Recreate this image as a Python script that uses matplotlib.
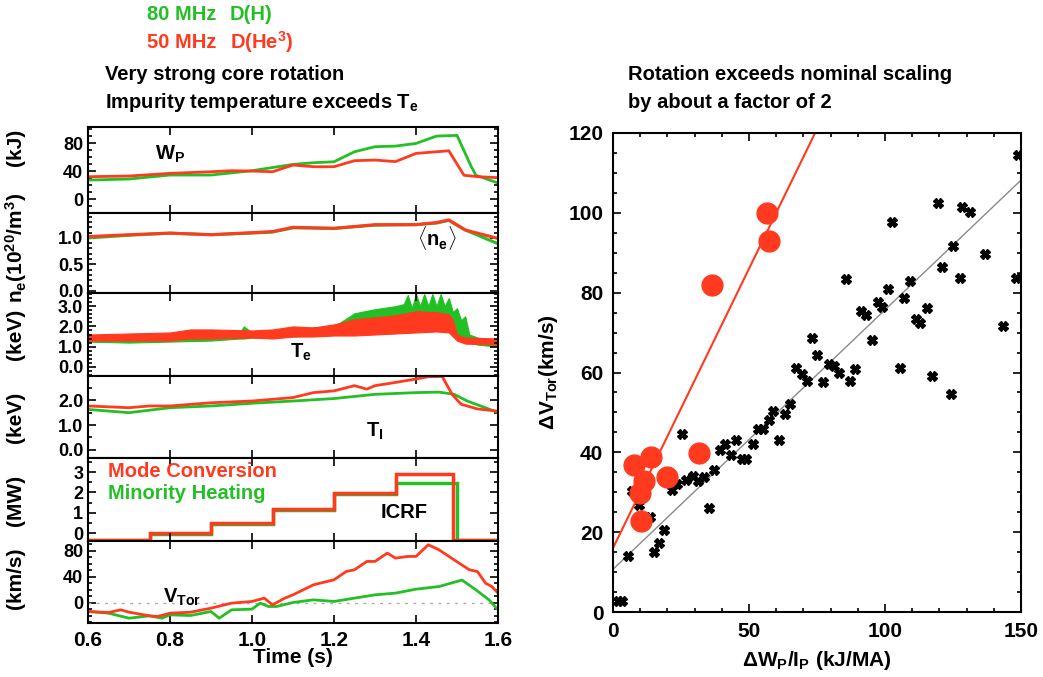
import matplotlib
matplotlib.use('Agg')
import matplotlib.pyplot as plt
from matplotlib import font_manager
from matplotlib.ticker import MultipleLocator

# colours
RED = '#ff3a1f'
GREEN = '#22c024'

# --- left column: time traces ---
wp_t_red = [0.6, 0.7, 0.8, 0.9, 0.95, 1.0, 1.05, 1.1, 1.15, 1.2, 1.25, 1.3, 1.35, 1.4, 1.45, 1.48, 1.517, 1.55, 1.6]
wp_red = [31.9, 32.9, 36.7, 39.0, 40.5, 40.0, 39.0, 48.6, 46.2, 46.2, 54.8, 55.7, 53.5, 65.2, 67.6, 69.0, 34.0, 32.0, 30.5]
wp_t_green = [0.6, 0.7, 0.8, 0.9, 1.0, 1.1, 1.15, 1.2, 1.25, 1.3, 1.35, 1.4, 1.45, 1.50, 1.533, 1.546, 1.6]
wp_green = [27.1, 28.6, 34.3, 34.3, 40.5, 49.5, 51.9, 53.3, 67.6, 74.8, 75.7, 79.5, 90.0, 91.0, 48.6, 34.0, 22.9]

ne_t = [0.6, 0.7, 0.8, 0.9, 1.0, 1.05, 1.1, 1.2, 1.3, 1.4, 1.45, 1.48, 1.52, 1.6]
ne_red = [1.025, 1.06, 1.09, 1.06, 1.10, 1.12, 1.20, 1.18, 1.25, 1.25, 1.29, 1.34, 1.15, 0.99]
ne_green = [1.0, 1.05, 1.09, 1.06, 1.09, 1.11, 1.19, 1.18, 1.24, 1.25, 1.28, 1.33, 1.15, 0.89]

# Te is a noisy band: lower / upper envelopes (sawtooth teeth read on the green top)
te_t_green = [0.6, 0.7, 0.8, 0.9, 0.97, 0.98, 1.0, 1.1, 1.15, 1.2, 1.25, 1.3, 1.35, 1.37, 1.38, 1.39, 1.40,
              1.41, 1.42, 1.43, 1.44, 1.45, 1.46, 1.47, 1.48, 1.49, 1.5, 1.51, 1.52, 1.53, 1.55, 1.6]
te_lo_green = [1.25, 1.2, 1.25, 1.3, 1.4, 1.4, 1.45, 1.5, 1.55, 1.6, 1.7, 1.75, 1.8, 1.85, 1.85, 1.85, 1.9,
               1.9, 1.9, 1.9, 1.9, 1.9, 1.9, 1.9, 1.9, 1.8, 1.6, 1.5, 1.4, 1.2, 1.1, 1.0]
te_hi_green = [1.55, 1.5, 1.55, 1.6, 1.7, 2.0, 1.7, 1.75, 1.95, 2.0, 2.65, 2.85, 3.0, 3.1, 3.55, 2.9, 3.6,
               3.0, 3.6, 3.0, 3.6, 3.0, 3.6, 3.0, 3.4, 2.7, 2.9, 2.3, 2.5, 1.6, 1.45, 1.3]
te_t_red = [0.6, 0.7, 0.8, 0.85, 0.9, 1.0, 1.05, 1.1, 1.15, 1.2, 1.25, 1.3, 1.35, 1.4, 1.45, 1.48, 1.49, 1.5, 1.52, 1.6]
te_lo_red = [1.3, 1.3, 1.3, 1.4, 1.4, 1.45, 1.4, 1.5, 1.5, 1.55, 1.55, 1.6, 1.65, 1.7, 1.75, 1.7, 1.5, 1.3, 1.15, 1.1]
te_hi_red = [1.6, 1.65, 1.7, 1.85, 1.85, 1.8, 1.85, 2.0, 1.95, 2.1, 2.35, 2.45, 2.55, 2.75, 2.7, 2.6, 2.3, 1.6, 1.45, 1.4]

ti_t_red = [0.6, 0.7, 0.75, 0.8, 0.9, 1.0, 1.1, 1.15, 1.2, 1.25, 1.28, 1.3, 1.35, 1.4, 1.43, 1.464, 1.488, 1.51, 1.55, 1.6]
ti_red = [1.77, 1.70, 1.77, 1.77, 1.90, 1.97, 2.11, 2.31, 2.38, 2.59, 2.45, 2.59, 2.72, 2.86, 2.95, 2.96, 2.24, 1.84, 1.65, 1.56]
ti_t_green = [0.6, 0.7, 0.8, 0.9, 1.0, 1.1, 1.2, 1.3, 1.4, 1.456, 1.493, 1.525, 1.6]
ti_green = [1.63, 1.50, 1.70, 1.77, 1.88, 1.97, 2.07, 2.24, 2.31, 2.33, 2.24, 1.97, 1.51]

icrf_edges_red = [0.6, 0.75, 0.9, 1.05, 1.2, 1.35, 1.49, 1.6]
icrf_red = [-0.35, 0.0, 0.49, 1.18, 1.97, 2.9, -0.35]
icrf_edges_green = [0.6, 0.75, 0.9, 1.05, 1.2, 1.35, 1.5, 1.6]
icrf_green = [-0.35, -0.03, 0.45, 1.13, 1.9, 2.45, -0.35]

vt_t_red = [0.6, 0.65, 0.68, 0.7, 0.75, 0.77, 0.8, 0.85, 0.9, 0.95, 1.0, 1.03, 1.05, 1.08, 1.1, 1.15, 1.2, 1.23,
            1.25, 1.28, 1.3, 1.33, 1.35, 1.38, 1.4, 1.43, 1.456, 1.493, 1.53, 1.55, 1.57, 1.585, 1.6]
vt_red = [-13.3, -14.9, -10.8, -14.4, -20.0, -21.0, -15.9, -14.4, -8.2, -0.5, 2.1, 7.2, -3.1, 7.2, 12.3, 27.7, 35.4, 48.2,
          50.8, 63.6, 63.6, 76.4, 68.7, 71.3, 71.3, 89.2, 81.5, 66.0, 50.8, 48.0, 30.0, 25.0, 15.0]
vt_t_green = [0.6, 0.65, 0.7, 0.75, 0.78, 0.8, 0.85, 0.9, 0.92, 0.95, 1.0, 1.02, 1.04, 1.06, 1.1, 1.15, 1.2, 1.25,
              1.3, 1.35, 1.4, 1.456, 1.512, 1.546, 1.578, 1.6]
vt_green = [-13.3, -15.9, -23.6, -20.0, -23.6, -18.5, -19.5, -13.3, -23.6, -10.8, -9.7, -0.5, -5.6, -5.6, 0.5, 4.6, 2.1, 7.2,
            12.3, 14.9, 21.0, 25.0, 35.0, 20.0, 4.6, -10.8]

# --- right panel: scatter ---
circ_x = [56.6, 57.4, 36.4, 7.7, 14.0, 11.4, 9.9, 10.2, 19.9, 31.6]
circ_y = [100.0, 92.9, 82.0, 36.8, 38.9, 32.8, 29.7, 22.7, 33.8, 39.8]

sq_x = [149.0, 119.4, 128.2, 131.2, 102.7, 124.9, 136.8, 121.1, 148.0, 127.6, 85.5, 109.2, 101.2, 106.9, 97.3, 98.9,
        115.3, 91.1, 93.0, 111.4, 113.0, 143.5, 95.3, 73.3, 74.9, 67.2, 105.6, 69.4, 71.3, 77.3, 79.4, 81.4, 83.0,
        87.1, 89.0, 117.4, 124.1, 65.1, 63.2, 58.9, 57.5, 55.3, 53.4, 61.0, 51.3, 45.2, 41.3, 39.3, 43.3, 47.3,
        48.9, 37.2, 33.5, 31.4, 29.3, 26.8, 23.4, 21.6, 25.4, 35.2, 18.9, 17.0, 15.2, 5.6, 6.9, 9.6, 13.6, 2.0, 3.2]
sq_y = [114.5, 102.4, 101.5, 100.2, 97.8, 91.7, 89.8, 86.5, 83.7, 83.7, 83.4, 82.9, 80.9, 78.6, 77.6, 76.5,
        76.2, 75.5, 74.4, 73.3, 72.4, 71.7, 68.2, 68.7, 64.5, 61.1, 61.1, 59.5, 57.8, 57.6, 62.2, 61.6, 59.9,
        57.8, 60.8, 59.0, 54.5, 52.0, 49.7, 50.3, 48.2, 45.9, 45.9, 43.2, 42.2, 43.2, 42.0, 40.5, 39.3, 38.4,
        38.4, 35.5, 33.7, 32.7, 34.0, 33.0, 32.0, 30.5, 44.5, 26.1, 20.5, 17.4, 15.1, 14.0, 30.2, 26.9, 23.8, 2.8, 2.8]

red_fit = (16.0, 1.40)    # intercept, slope
grey_fit = (10.7, 0.65)

names = {f.name for f in font_manager.fontManager.ttflist}
FAMILY = 'Liberation Sans Narrow' if 'Liberation Sans Narrow' in names else 'Liberation Sans'
plt.rcParams['font.family'] = [FAMILY, 'DejaVu Sans']
plt.rcParams['font.weight'] = 'bold'
plt.rcParams['axes.labelweight'] = 'bold'
plt.rcParams['mathtext.fontset'] = 'custom'
plt.rcParams['mathtext.rm'] = FAMILY + ':bold'
plt.rcParams['mathtext.it'] = FAMILY + ':bold'
plt.rcParams['mathtext.bf'] = FAMILY + ':bold'
plt.rcParams['mathtext.default'] = 'rm'

TXT = 14.5

W, H = 1043, 677
fig = plt.figure(figsize=(W / 100, H / 100), dpi=100)


def px_axes(left, top, right, bottom):
    return fig.add_axes([left / W, 1 - bottom / H, (right - left) / W, (bottom - top) / H])


def style(ax, size):
    for s in ax.spines.values():
        s.set_linewidth(1.5)
    ax.tick_params(which='both', direction='in', top=True, right=True, width=1.2, labelsize=size)
    ax.tick_params(which='major', length=6)
    ax.tick_params(which='minor', length=3)


edges = [127, 213, 293, 376, 458, 541, 623]
axs = [px_axes(88, edges[i], 498, edges[i + 1]) for i in range(6)]
ylims = [(-20, 103), (-0.04, 1.47), (-0.45, 3.65), (-0.33, 2.98), (-0.39, 3.69), (-31, 95)]
majors = [40, 0.5, 1.0, 1.0, 1, 40]
minors = [10, 0.1, 0.2, 0.5, 0.5, 10]
fmts = ['%d', '%.1f', '%.1f', '%.1f', '%d', '%d']
for ax, yl, mj, mn, fm in zip(axs, ylims, majors, minors, fmts):
    ax.set_xlim(0.6, 1.6)
    ax.set_ylim(*yl)
    ax.xaxis.set_major_locator(MultipleLocator(0.2))
    ax.yaxis.set_major_locator(MultipleLocator(mj))
    ax.yaxis.set_minor_locator(MultipleLocator(mn))
    ax.yaxis.set_major_formatter(plt.FormatStrFormatter(fm))
    style(ax, 13)
    if ax is not axs[-1]:
        ax.tick_params(labelbottom=False)

a = axs[0]
a.plot(wp_t_green, wp_green, color=GREEN, lw=2)
a.plot(wp_t_red, wp_red, color=RED, lw=2)
a.text(0.8, 64, r'$W_P$', fontsize=TXT, ha='center', va='center')

a = axs[1]
a.plot(ne_t, ne_green, color=GREEN, lw=2.2)
a.plot(ne_t, ne_red, color=RED, lw=2.2)
a.text(1.45, 1.0, r'$\langle n_e \rangle$', fontsize=TXT, ha='center', va='center')

a = axs[2]
a.fill_between(te_t_green, te_lo_green, te_hi_green, color=GREEN, lw=0.8, edgecolor=GREEN)
a.fill_between(te_t_red, te_lo_red, te_hi_red, color=RED, lw=0.8, edgecolor=RED)
a.text(1.12, 0.7, r'$T_e$', fontsize=TXT, ha='center', va='center')

a = axs[3]
a.plot(ti_t_green, ti_green, color=GREEN, lw=2)
a.plot(ti_t_red, ti_red, color=RED, lw=2)
a.text(1.3, 0.75, r'$T_I$', fontsize=TXT, ha='center', va='center')

a = axs[4]
a.stairs(icrf_green, icrf_edges_green, color=GREEN, lw=2.5, baseline=None)
a.stairs(icrf_red, icrf_edges_red, color=RED, lw=2.5, baseline=None)
a.text(0.65, 3.05, 'Mode Conversion', color=RED, fontsize=TXT, va='center')
a.text(0.65, 1.95, 'Minority Heating', color=GREEN, fontsize=TXT, va='center')
a.text(1.37, 1.0, 'ICRF', fontsize=TXT, ha='center', va='center')

a = axs[5]
a.axhline(0, color='#aaaaaa', lw=1, ls=(0, (2, 4)))
a.plot(vt_t_green, vt_green, color=GREEN, lw=2)
a.plot(vt_t_red, vt_red, color=RED, lw=2)
a.text(0.83, 8, r'$V_{Tor}$', fontsize=TXT, ha='center', va='center')
a.set_xticks([0.6, 0.8, 1.0, 1.2, 1.4, 1.6])
a.set_xticklabels(['0.6', '0.8', '1.0', '1.2', '1.4', '1.6'])
a.tick_params(axis='x', labelsize=15, pad=6)
a.set_xlabel('Time (s)', fontsize=15, labelpad=-2)

# y labels of the left column
for ypx, lab in [(147, '(kJ)'), (248, r'$n_e$(10$^{20}$/m$^3$)'), (334, '(keV)'),
                 (417, '(keV)'), (500, '(MW)'), (578, '(km/s)')]:
    fig.text(16 / W, 1 - ypx / H, lab, rotation=90, fontsize=15, ha='center', va='center')

# headers
fig.text(147 / W, 1 - 15 / H, '80 MHz', color=GREEN, fontsize=TXT, va='center')
fig.text(230 / W, 1 - 15 / H, 'D(H)', color=GREEN, fontsize=TXT, va='center')
fig.text(147 / W, 1 - 42 / H, '50 MHz', color=RED, fontsize=TXT, va='center')
fig.text(230 / W, 1 - 42 / H, r'D(He$^3$)', color=RED, fontsize=TXT, va='center')
fig.text(105 / W, 1 - 75 / H, 'Very strong core rotation', fontsize=TXT, va='center')
fig.text(105 / W, 1 - 103 / H, r'Impurity temperature exceeds $T_e$', fontsize=TXT, va='center')
fig.text(628 / W, 1 - 75 / H, 'Rotation exceeds nominal scaling', fontsize=TXT, va='center')
fig.text(628 / W, 1 - 103 / H, 'by about a factor of 2', fontsize=TXT, va='center')

# right panel
ar = px_axes(613, 133, 1021, 612)
ar.set_xlim(0, 150)
ar.set_ylim(0, 120)
ar.xaxis.set_major_locator(MultipleLocator(50))
ar.xaxis.set_minor_locator(MultipleLocator(10))
ar.yaxis.set_major_locator(MultipleLocator(20))
ar.yaxis.set_minor_locator(MultipleLocator(5))
style(ar, 15)
ar.tick_params(axis='both', pad=7)
ar.axline((0, grey_fit[0]), slope=grey_fit[1], color='#8a8a8a', lw=1)
ar.plot(sq_x, sq_y, ls='none', marker='X', ms=7, color='black', mec='black')
ar.axline((0, red_fit[0]), slope=red_fit[1], color=RED, lw=1.5)
ar.plot(circ_x, circ_y, ls='none', marker='o', ms=15, color=RED, mec=RED)
ar.set_xlabel(r'$\Delta W_P/I_P$ (kJ/MA)', fontsize=15, labelpad=6)
ar.set_ylabel(r'$\Delta V_{Tor}$(km/s)', fontsize=15, labelpad=6)

fig.savefig('out.png', dpi=100)
